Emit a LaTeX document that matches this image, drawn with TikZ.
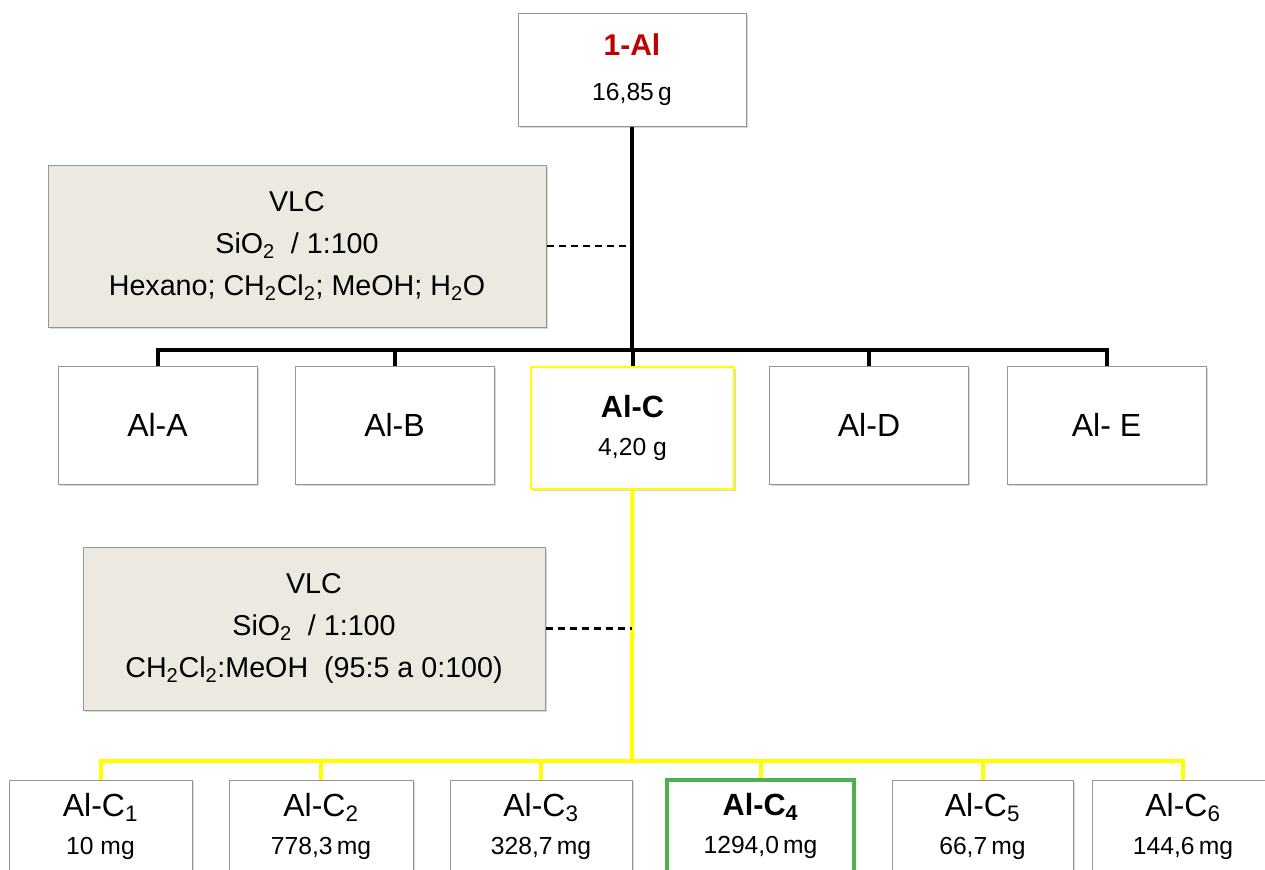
\documentclass[tikz,border=0pt]{standalone}
\usepackage{fontspec}
\setmainfont{Liberation Sans}
\usetikzlibrary{shadows}
\definecolor{boxgray}{RGB}{150,150,150}
\definecolor{beige}{RGB}{236,233,224}
\definecolor{darkred}{RGB}{192,0,0}
\definecolor{ylw}{RGB}{255,255,0}
\definecolor{grn}{RGB}{80,175,80}
\newcommand\mainsz{\fontsize{24}{28.5}\selectfont}
\newcommand\boldsz{\fontsize{23}{28.5}\selectfont}
\newcommand\topsz{\fontsize{22.5}{33.5}\selectfont}
\newcommand\masssz{\fontsize{18.5}{28.5}\selectfont}
\newcommand\topmass{\fontsize{18.5}{33.5}\selectfont}
\newcommand\vlcsz{\fontsize{21.5}{31.5}\selectfont}
\begin{document}
\begin{tikzpicture}[x=0.75pt,y=-0.75pt,
  box/.style={draw=boxgray, line width=0.75pt, fill=white, align=center, inner sep=0pt,
    drop shadow={opacity=0.3, shadow xshift=1.2pt, shadow yshift=-1.8pt}},
  vlcbox/.style={box, fill=beige, font=\vlcsz},
  midbox/.style={box, minimum width=149.25pt, minimum height=88.5pt, font=\mainsz},
  botbox/.style={box, minimum height=69pt, font=\mainsz},
  blk/.style={line width=3pt, black},
  ylwline/.style={line width=3pt, ylw},
  dashline/.style={line width=1.6pt, dash pattern=on 5.5pt off 3.5pt}
]
\clip (0,0) rectangle (1265,869);
\fill[white] (0,0) rectangle (1265,869);

% nodes
\node[box, font=\topsz, minimum width=171pt, minimum height=84.75pt] (top) at (632,69.5)
  {{\bfseries\color{darkred}1-Al}\\{\topmass 16,85\,g}};
\node[vlcbox, minimum width=373.5pt, minimum height=121.5pt] (vlc1) at (297,246)
  {VLC\\SiO\textsubscript{2}\ \ / 1:100\\Hexano; CH\textsubscript{2}Cl\textsubscript{2}; MeOH; H\textsubscript{2}O};

\node[midbox] (alA) at (157.5,425) {Al-A};
\node[midbox] (alB) at (394.5,425) {Al-B};
\node[midbox, font=\boldsz, draw=ylw, line width=2pt, minimum width=152.25pt, minimum height=91.5pt] (alC) at (632.5,428)
  {{\bfseries Al-C}\\{\masssz 4,20 g}};
\node[midbox] (alD) at (869,425) {Al-D};
\node[midbox] (alE) at (1106.5,425) {Al- E};

\node[vlcbox, minimum width=346.5pt, minimum height=122.25pt] (vlc2) at (314,628.5)
  {VLC\\SiO\textsubscript{2}\ \ / 1:100\\CH\textsubscript{2}Cl\textsubscript{2}:MeOH\ \ (95:5 a 0:100)};

\node[botbox, minimum width=137.25pt] (c1) at (100.5,826) {Al-C\textsubscript{1}\\{\masssz 10 mg}};
\node[botbox, minimum width=138pt] (c2) at (321,826) {Al-C\textsubscript{2}\\{\masssz 778,3\,mg}};
\node[botbox, minimum width=136.5pt] (c3) at (541,826) {Al-C\textsubscript{3}\\{\masssz 328,7\,mg}};
\node[botbox, font=\boldsz, draw=grn, line width=2.5pt, minimum width=140.25pt] (c4) at (760.5,826) {{\bfseries Al-C\textsubscript{4}}\\{\masssz 1294,0\,mg}};
\node[botbox, minimum width=135.75pt] (c5) at (982.5,826) {Al-C\textsubscript{5}\\{\masssz 66,7\,mg}};
\node[botbox, minimum width=136.5pt] (c6) at (1183,826) {Al-C\textsubscript{6}\\{\masssz 144,6\,mg}};

% black tree
\coordinate (b1) at (632,350);
\draw[blk] (top.south) -- (b1);
\draw[blk] (alA.north) -- (alA.north |- b1) -- (alE.north |- b1) -- (alE.north);
\draw[blk] (alB.north |- b1) -- (alB.north);
\draw[blk] (alC.north |- b1) -- (alC.north);
\draw[blk] (alD.north |- b1) -- (alD.north);
\draw[dashline] (vlc1.east) -- (vlc1.east -| b1);

% yellow tree
\coordinate (b2) at (632,761);
\draw[ylwline] (alC.south) -- (b2);
\draw[ylwline] (c1.north) -- (c1.north |- b2) -- (c6.north |- b2) -- (c6.north);
\draw[ylwline] (c2.north |- b2) -- (c2.north);
\draw[ylwline] (c3.north |- b2) -- (c3.north);
\draw[ylwline] (c4.north |- b2) -- (c4.north);
\draw[ylwline] (c5.north |- b2) -- (c5.north);
\draw[dashline] (vlc2.east) -- (vlc2.east -| b2);
\end{tikzpicture}
\end{document}
